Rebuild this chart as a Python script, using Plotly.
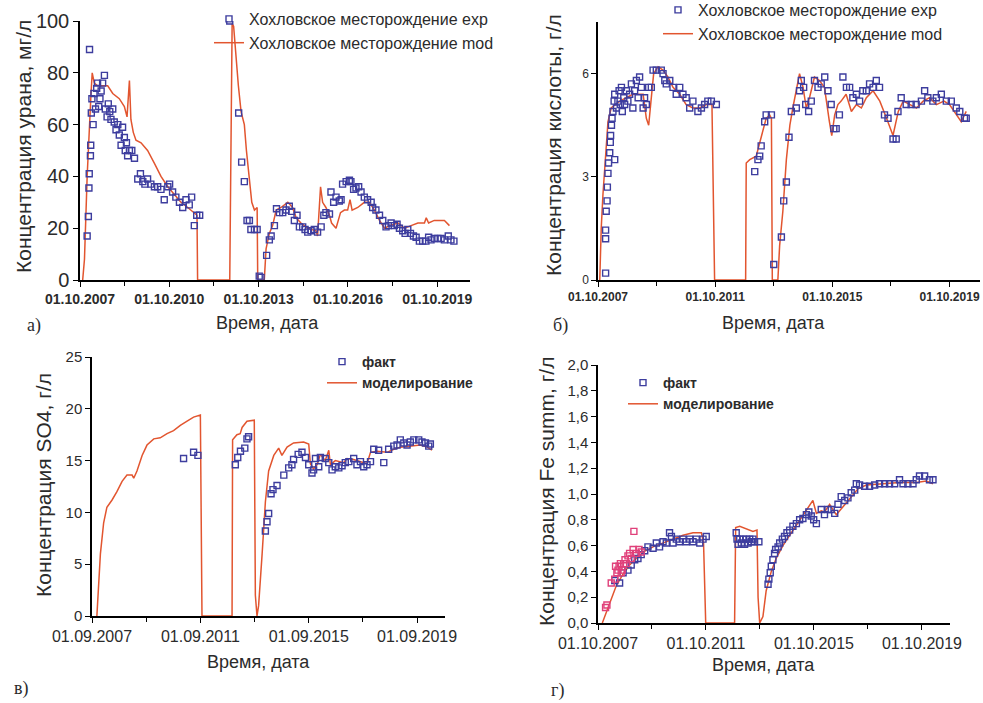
import plotly.graph_objects as go

# ---------------- data (decimal years) ----------------
# Panel a: uranium, mg/l
a_exp_x = [2007.99, 2008.03, 2008.05, 2008.06, 2008.10, 2008.11, 2008.13, 2008.07, 2008.15, 2008.19, 2008.22,
           2008.27, 2008.31, 2008.34, 2008.38, 2008.42, 2008.46, 2008.51, 2008.57, 2008.60, 2008.66, 2008.70,
           2008.75, 2008.79, 2008.85, 2008.90, 2008.96, 2009.02, 2009.07, 2009.13, 2009.18, 2009.24, 2009.27,
           2009.31, 2009.35, 2009.41, 2009.49, 2009.58, 2009.69, 2009.78, 2009.86, 2009.93, 2010.02, 2010.13,
           2010.25, 2010.36, 2010.47, 2010.58, 2010.70, 2010.76, 2010.86, 2010.97, 2011.09, 2011.20, 2011.31,
           2011.42, 2011.50, 2011.59, 2011.67, 2011.77,
           2012.78, 2013.08, 2013.18, 2013.27, 2013.36, 2013.44, 2013.49, 2013.61, 2013.70, 2013.77, 2013.83,
           2014.02, 2014.11, 2014.17, 2014.28, 2014.35, 2014.45, 2014.56, 2014.67, 2014.78, 2014.86, 2014.95,
           2015.04, 2015.12, 2015.23, 2015.31, 2015.40, 2015.51, 2015.62, 2015.73, 2015.85, 2015.94, 2016.01,
           2016.13, 2016.18, 2016.27, 2016.35, 2016.46, 2016.52, 2016.57, 2016.69, 2016.80, 2016.85, 2016.94,
           2017.02, 2017.11, 2017.19, 2017.30, 2017.41, 2017.53, 2017.58, 2017.69, 2017.81, 2017.92, 2018.03,
           2018.11, 2018.20, 2018.31, 2018.40, 2018.48, 2018.59, 2018.67, 2018.76, 2018.85, 2018.95, 2019.04,
           2019.15, 2019.26, 2019.37, 2019.46, 2019.54, 2019.65, 2019.77, 2019.88, 2019.99, 2020.12, 2020.21,
           2020.31]
a_exp_y = [17, 24.5, 35.5, 41, 48, 52, 64.5, 89, 70, 60, 72,
           66, 74, 76, 67, 70, 73, 76, 79, 66, 63, 68,
           65, 62, 66, 61, 58, 60, 56, 52, 59, 55, 50,
           53, 48, 50, 50, 47, 39, 41, 38, 37, 39, 37,
           36, 36, 35, 31, 36, 37, 34, 32, 30, 28, 31,
           29, 32, 21, 25, 25,
           100, 64.5, 45.5, 38, 23, 23, 19.5, 19.5, 19.5, 1.5, 1,
           9.5, 15.5, 17, 21, 27.5, 26, 26, 27, 28.5, 26.5, 23,
           25, 20.5, 20.5, 19.5, 18.5, 19, 19.5, 18.5, 20.5, 25, 26,
           25.5, 34, 30, 32, 30.5, 31, 37, 38, 38.5, 38, 35,
           35.5, 36, 34, 32, 31, 30, 28, 27, 25, 23, 20.5,
           21, 22, 21, 21.5, 20, 19, 18, 19.5, 18, 17, 16.5,
           15, 15, 15, 16.5, 15.5, 16, 16, 16, 15.5, 17, 15.5,
           15]
a_mod_x = [2007.84, 2007.90, 2007.99, 2008.06, 2008.12, 2008.16, 2008.23, 2008.34, 2008.68, 2008.85, 2009.07,
           2009.24, 2009.33, 2009.41, 2009.46, 2009.54, 2009.63, 2009.80, 2010.02, 2010.25, 2010.47, 2010.70,
           2010.92, 2011.14, 2011.37, 2011.59, 2011.68, 2011.70, 2012.78, 2012.80, 2012.86, 2012.91, 2012.99,
           2013.07, 2013.16, 2013.27, 2013.34, 2013.44, 2013.52, 2013.61, 2013.70, 2013.72, 2013.94, 2014.00,
           2014.11, 2014.22, 2014.34, 2014.50, 2014.73, 2014.89, 2015.01, 2015.17, 2015.40, 2015.68, 2015.73,
           2015.83, 2015.90, 2016.01, 2016.13, 2016.20, 2016.35, 2016.50, 2016.63, 2016.74, 2016.82, 2016.89,
           2017.08, 2017.30, 2017.47, 2017.64, 2017.81, 2017.98, 2018.15, 2018.43, 2018.65, 2018.87, 2019.10,
           2019.32, 2019.38, 2019.46, 2019.65, 2019.99, 2020.16]
a_mod_y = [0, 8, 40, 60, 72, 80, 76, 75, 75, 72, 70,
           67, 63, 77, 62, 57, 54, 53, 50, 45, 40, 36,
           33, 30, 28, 26, 25, 0, 0, 25, 99, 98, 86,
           75, 65, 60, 50, 38, 30, 27, 28, 0, 0, 12,
           18, 21, 27, 28, 30, 28, 24, 22, 20, 19, 17,
           36, 30, 28, 25, 22, 20, 26, 27, 27, 31, 27,
           28, 30, 30, 27, 23, 20, 21, 22, 20, 21, 22,
           22, 24, 22, 23, 23, 21]

# Panel b: acid, g/l
b_exp_x = [2008.01, 2008.01, 2008.01, 2008.03, 2008.06, 2008.07, 2008.09, 2008.11, 2008.15, 2008.17, 2008.18,
           2008.21, 2008.23, 2008.26, 2008.30, 2008.32, 2008.32, 2008.38, 2008.43, 2008.47, 2008.51, 2008.55,
           2008.58, 2008.63, 2008.66, 2008.72, 2008.77, 2008.83, 2008.89, 2008.94, 2009.00, 2009.06, 2009.12,
           2009.17, 2009.23, 2009.29, 2009.34, 2009.40, 2009.48, 2009.57, 2009.63, 2009.74, 2009.91, 2009.97,
           2010.03, 2010.08, 2010.20, 2010.31, 2010.42, 2010.54, 2010.65, 2010.76, 2010.88, 2010.99, 2011.16,
           2011.28, 2011.39, 2011.50, 2011.62, 2011.79,
           2013.10, 2013.21, 2013.27, 2013.32, 2013.44, 2013.49, 2013.67, 2013.75, 2014.01, 2014.09, 2014.18,
           2014.27, 2014.35, 2014.52, 2014.63, 2014.69, 2014.77, 2014.84, 2014.94, 2015.03, 2015.14, 2015.26,
           2015.37, 2015.49, 2015.60, 2015.71, 2015.80, 2015.88, 2015.99, 2016.11, 2016.23, 2016.34, 2016.45,
           2016.57, 2016.68, 2016.79, 2016.91, 2017.02, 2017.14, 2017.25, 2017.36, 2017.53, 2017.65, 2017.82,
           2017.93, 2017.99, 2018.10, 2018.27, 2018.44, 2018.61, 2018.79, 2018.90, 2019.01, 2019.18, 2019.30,
           2019.47, 2019.64, 2019.81, 2019.98, 2020.10, 2020.26, 2020.32]
b_exp_y = [0.2, 1.45, 1.2, 2.0, 2.3, 2.7, 3.1, 3.4, 3.7, 4.0, 4.2,
           4.5, 4.7, 4.9, 5.2, 5.4, 3.5, 5.0, 5.2, 5.5, 5.1, 5.6,
           4.9, 5.3, 5.1, 5.5, 5.2, 5.4, 5.7, 5.0, 5.5, 5.8, 5.3,
           5.9, 5.6, 5.0, 5.3, 5.1, 5.6, 5.6, 6.1, 6.1, 6.1, 6.0,
           5.8, 5.7, 5.8, 5.6, 5.4, 5.6, 5.4, 5.3, 5.0, 5.2, 4.9,
           5.0, 5.1, 5.2, 5.2, 5.1,
           3.15, 3.5, 3.6, 3.9, 4.6, 4.8, 4.8, 0.45, 1.25, 2.3, 2.85,
           4.15, 4.9, 5.0, 5.5, 5.8, 5.6, 5.1, 4.9, 5.2, 5.8, 5.6,
           5.7, 5.9, 5.5, 5.1, 4.4, 4.4, 4.8, 5.9, 5.6, 5.6, 5.3,
           5.4, 5.2, 5.5, 5.5, 5.7, 5.6, 5.8, 5.6, 4.8, 4.7, 4.1,
           4.1, 4.9, 5.3, 5.1, 5.1, 5.1, 5.2, 5.5, 5.3, 5.2, 5.3,
           5.4, 5.2, 5.2, 5.0, 4.9, 4.7, 4.7]
b_mod_x = [2007.81, 2007.86, 2007.92, 2008.01, 2008.09, 2008.20, 2008.49, 2008.94, 2009.29, 2009.40, 2009.48,
           2009.57, 2009.65, 2009.80, 2009.97, 2010.14, 2010.31, 2010.54, 2010.76, 2010.99, 2011.22, 2011.45,
           2011.64, 2011.73, 2012.79, 2012.81, 2012.93, 2013.15, 2013.38, 2013.49, 2013.61, 2013.67, 2013.70,
           2013.89, 2013.95, 2014.06, 2014.18, 2014.30, 2014.40, 2014.52, 2014.63, 2014.75, 2014.86, 2014.97,
           2015.14, 2015.31, 2015.48, 2015.65, 2015.73, 2015.83, 2015.94, 2016.05, 2016.22, 2016.40, 2016.57,
           2016.74, 2016.91, 2017.14, 2017.37, 2017.60, 2017.82, 2018.00, 2018.17, 2018.40, 2018.62, 2018.85,
           2019.07, 2019.30, 2019.56, 2019.75, 2019.98, 2020.15, 2020.32]
b_mod_y = [0, 1.5, 2.5, 3.8, 4.6, 5.0, 5.2, 5.4, 5.4, 4.7, 4.5,
           5.3, 6.0, 6.2, 6.1, 5.9, 5.6, 5.4, 5.1, 5.0, 5.0, 5.1,
           5.1, 0, 0, 3.4, 3.5, 3.6, 4.4, 4.7, 4.8, 4.7, 0,
           0, 1.0, 2.0, 3.5, 4.5, 5.0, 5.5, 6.0, 5.6, 5.0, 5.3,
           5.9, 5.8, 5.6, 4.6, 4.2, 4.8, 5.1, 5.2, 5.4, 4.9, 5.1,
           5.0, 5.3, 5.5, 5.2, 4.7, 4.2, 4.9, 5.2, 5.1, 5.0, 5.2,
           5.3, 5.1, 5.2, 5.1, 4.8, 4.6, 4.9]

# Panel c: SO4, g/l
c_exp_x = [2011.05, 2011.42, 2011.58, 2012.96, 2013.05, 2013.15, 2013.31, 2013.39, 2013.45,
           2014.07, 2014.13, 2014.19, 2014.28, 2014.35, 2014.50, 2014.75, 2014.93, 2015.05, 2015.11, 2015.28,
           2015.42, 2015.55, 2015.67, 2015.79, 2015.85, 2015.92, 2016.04, 2016.10, 2016.28, 2016.41, 2016.53,
           2016.65, 2016.78, 2016.90, 2017.02, 2017.15, 2017.33, 2017.45, 2017.58, 2017.70, 2017.82, 2017.95,
           2018.07, 2018.25, 2018.44, 2018.62, 2018.81, 2018.93, 2019.05, 2019.18, 2019.30, 2019.42, 2019.55,
           2019.73, 2019.85, 2019.98, 2020.10, 2020.16]
c_exp_y = [15.2, 15.8, 15.5, 14.6, 15.3, 15.9, 16.2, 17.1, 17.3,
           8.2, 9.1, 9.9, 11.8, 12.2, 12.6, 13.6, 14.3, 14.6, 15.1, 15.6,
           15.8, 15.3, 14.6, 13.8, 14.1, 15.2, 14.4, 15.3, 15.2, 14.8, 14.1,
           14.4, 14.3, 14.5, 14.8, 14.9, 15.2, 14.6, 14.9, 14.4, 14.6, 14.9,
           16.1, 16.0, 14.8, 16.1, 16.4, 16.5, 17.0, 16.7, 16.5, 16.8, 17.0,
           17.0, 16.8, 16.7, 16.4, 16.6]
c_mod_x = [2007.85, 2007.91, 2007.98, 2008.10, 2008.22, 2008.41, 2008.59, 2008.78, 2008.96, 2009.15, 2009.21,
           2009.33, 2009.52, 2009.70, 2009.95, 2010.19, 2010.44, 2010.68, 2010.93, 2011.18, 2011.42, 2011.67,
           2011.73, 2012.84, 2012.86, 2013.02, 2013.14, 2013.21, 2013.39, 2013.66, 2013.70, 2013.76, 2013.82,
           2013.95, 2014.07, 2014.19, 2014.38, 2014.56, 2014.68, 2014.87, 2015.11, 2015.48, 2015.67, 2015.73,
           2015.85, 2015.98, 2016.10, 2016.28, 2016.41, 2016.47, 2016.65, 2016.96, 2017.08, 2017.33, 2017.58,
           2017.82, 2017.95, 2018.19, 2018.56, 2018.81, 2019.05, 2019.42, 2019.79, 2020.04, 2020.22]
c_mod_y = [0, 3, 6, 9, 10.5, 11.2, 12, 13, 13.6, 13.6, 13.3,
           14, 15.5, 16.5, 17.1, 17.2, 17.6, 17.9, 18.4, 18.8, 19.2, 19.4,
           0, 0, 17, 17.5, 17.6, 18.2, 18.8, 18.9, 2, 0, 1,
           6, 11, 14, 15.5, 16.2, 15.5, 16.3, 16.7, 16.8, 16.6, 14.7,
           14.2, 14.6, 15.6, 15.0, 16.0, 14.6, 15.0, 14.8, 15.2, 15.1, 14.9,
           14.7, 15.8, 15.9, 15.8, 16.1, 16.3, 16.4, 16.5, 16.3, 16.0]

# Panel d: Fe summ, g/l
d_exp2_x = [2008.03, 2008.08, 2008.24, 2008.37, 2008.40, 2008.45, 2008.49, 2008.53, 2008.58, 2008.61, 2008.65,
            2008.70, 2008.75, 2008.80, 2008.86, 2008.92, 2008.98, 2009.05, 2009.08, 2009.17, 2009.27, 2009.35]
d_exp2_y = [0.12, 0.14, 0.31, 0.34, 0.44, 0.39, 0.41, 0.44, 0.46, 0.39, 0.41,
            0.46, 0.49, 0.46, 0.52, 0.54, 0.50, 0.57, 0.71, 0.54, 0.57, 0.55]
d_exp_x = [2008.37, 2008.55, 2008.68, 2008.86, 2008.98, 2009.11, 2009.23, 2009.35, 2009.48, 2009.60, 2009.79,
           2009.91, 2010.03, 2010.16, 2010.28, 2010.40, 2010.47, 2010.53, 2010.65, 2010.77, 2010.90, 2011.02,
           2011.15, 2011.27, 2011.39, 2011.52, 2011.64, 2011.76,
           2012.87, 2012.90, 2012.94, 2013.00, 2013.06, 2013.12, 2013.18, 2013.24, 2013.31, 2013.37, 2013.43,
           2013.49, 2013.55, 2013.71,
           2014.05, 2014.08, 2014.13, 2014.17, 2014.23, 2014.29, 2014.33, 2014.42, 2014.48, 2014.58, 2014.66,
           2014.75, 2014.85, 2014.97, 2015.10, 2015.22, 2015.34, 2015.47, 2015.56, 2015.65, 2015.74, 2015.84,
           2016.02, 2016.14, 2016.27, 2016.39, 2016.52, 2016.64, 2016.76, 2016.89, 2017.01, 2017.13, 2017.26,
           2017.32, 2017.44, 2017.63, 2017.81, 2018.00, 2018.18, 2018.37, 2018.55, 2018.74, 2018.92, 2019.05,
           2019.23, 2019.42, 2019.54, 2019.66, 2019.85, 2020.03, 2020.16]
d_exp_y = [0.33, 0.31, 0.39, 0.41, 0.45, 0.49, 0.50, 0.53, 0.56, 0.59, 0.58,
           0.62, 0.59, 0.63, 0.62, 0.70, 0.67, 0.62, 0.65, 0.63, 0.65, 0.63,
           0.65, 0.63, 0.65, 0.62, 0.65, 0.67,
           0.70, 0.65, 0.61, 0.65, 0.62, 0.65, 0.61, 0.65, 0.62, 0.65, 0.63,
           0.65, 0.63, 0.63,
           0.30, 0.34, 0.39, 0.44, 0.49, 0.54, 0.57, 0.59, 0.62, 0.65, 0.67,
           0.70, 0.72, 0.75, 0.77, 0.80, 0.81, 0.84, 0.86, 0.83, 0.80, 0.77,
           0.88, 0.84, 0.88, 0.88, 0.85, 0.92, 0.98, 0.95, 0.97, 1.01, 1.03,
           1.08, 1.07, 1.06, 1.06, 1.07, 1.08, 1.08, 1.08, 1.08, 1.11, 1.08,
           1.08, 1.08, 1.11, 1.14, 1.14, 1.11, 1.11]
d_mod_x = [2007.91, 2008.18, 2008.43, 2008.68, 2008.92, 2009.17, 2009.42, 2009.79, 2010.16, 2010.53, 2010.90,
           2011.27, 2011.58, 2011.66, 2011.74, 2012.81, 2012.85, 2013.00, 2013.24, 2013.49, 2013.64, 2013.68,
           2013.74, 2013.86, 2013.98, 2014.17, 2014.35, 2014.60, 2014.85, 2015.10, 2015.34, 2015.53, 2015.71,
           2015.84, 2016.02, 2016.14, 2016.33, 2016.45, 2016.58, 2016.82, 2017.07, 2017.38, 2017.69, 2018.31,
           2018.92, 2019.54, 2019.91, 2020.16]
d_mod_y = [0, 0.15, 0.29, 0.38, 0.45, 0.50, 0.55, 0.59, 0.62, 0.65, 0.68,
           0.70, 0.70, 0.62, 0, 0, 0.74, 0.75, 0.73, 0.71, 0.72, 0.2,
           0, 0.05, 0.25, 0.40, 0.50, 0.60, 0.68, 0.76, 0.84, 0.90, 0.95,
           0.85, 0.87, 0.86, 0.92, 0.88, 0.84, 0.90, 0.96, 1.04, 1.07, 1.08,
           1.09, 1.09, 1.10, 1.08]

# tick labels
a_tickvals = [2007.75, 2010.75, 2013.75, 2016.75, 2019.75]
a_ticktext = ["01.10.2007", "01.10.2010", "01.10.2013", "01.10.2016", "01.10.2019"]
b_tickvals = [2007.75, 2011.75, 2015.75, 2019.75]
b_ticktext = ["01.10.2007", "01.10.2011", "01.10.2015", "01.10.2019"]
c_tickvals = [2007.67, 2011.67, 2015.67, 2019.67]
c_ticktext = ["01.09.2007", "01.09.2011", "01.09.2015", "01.09.2019"]
d_tickvals = [2007.75, 2011.75, 2015.75, 2019.75]
d_ticktext = ["01.10.2007", "01.10.2011", "01.10.2015", "01.10.2019"]
d_yvals = [0, 0.2, 0.4, 0.6, 0.8, 1.0, 1.2, 1.4, 1.6, 1.8, 2.0]
d_ytext = ["0,0", "0,2", "0,4", "0,6", "0,8", "1,0", "1,2", "1,4", "1,6", "1,8", "2,0"]

leg_exp = "Хохловское месторождение exp"
leg_mod = "Хохловское месторождение mod"
leg_fact = "факт"
leg_model = "моделирование"

# ---------------- styling ----------------
W, H = 983, 703
BLUE = "#3d3d9e"
PINK = "#e0407a"
RED = "#e2552f"
TXT = "#2b2b2b"
SANS = "Liberation Sans, Arial, sans-serif"


def px(x):
    return x / W


def py(y):
    return 1 - y / H


fig = go.Figure()


def add_pair(xe, ye, xm, ym, xa, ya, leg, name_e, name_m, msize=6):
    fig.add_trace(go.Scatter(x=xm, y=ym, mode="lines", name=name_m, xaxis=xa, yaxis=ya,
                             line=dict(color=RED, width=1.5), legend=leg, legendrank=2))
    fig.add_trace(go.Scatter(x=xe, y=ye, mode="markers", name=name_e, xaxis=xa, yaxis=ya,
                             marker=dict(symbol="square-open", size=msize, color=BLUE, line=dict(width=1.4, color=BLUE)),
                             legend=leg, legendrank=1))


add_pair(a_exp_x, a_exp_y, a_mod_x, a_mod_y, "x", "y", "legend", leg_exp, leg_mod)
add_pair(b_exp_x, b_exp_y, b_mod_x, b_mod_y, "x2", "y2", "legend2", leg_exp, leg_mod)
add_pair(c_exp_x, c_exp_y, c_mod_x, c_mod_y, "x3", "y3", "legend3", leg_fact, leg_model)
add_pair(d_exp_x, d_exp_y, d_mod_x, d_mod_y, "x4", "y4", "legend4", leg_fact, leg_model)
fig.add_trace(go.Scatter(x=d_exp2_x, y=d_exp2_y, mode="markers", showlegend=False, xaxis="x4", yaxis="y4",
                         marker=dict(symbol="square-open", size=6, color=PINK, line=dict(width=1.4, color=PINK))))


def xax(dom, rng, anchor, tv, tt, minor_vals, fsize, bold):
    return dict(domain=dom, range=rng, anchor=anchor, automargin=False, tickmode="array", tickvals=tv, ticktext=tt,
                showline=True, linecolor="black", linewidth=1.5, ticks="outside", ticklen=5,
                tickwidth=1.3, tickcolor="black", showgrid=False, zeroline=False,
                tickfont=dict(family=SANS, size=fsize, color=TXT, weight="bold" if bold else "normal"),
                minor=dict(tickmode="array", tickvals=minor_vals, ticks="outside", ticklen=4,
                           tickwidth=1.2, tickcolor="black", showgrid=False))


def yax(dom, rng, anchor, fsize, tv=None, tt=None, dtick=None):
    d = dict(domain=dom, range=rng, anchor=anchor, automargin=False, showline=True, linecolor="black",
             linewidth=1.5, ticks="outside", ticklen=5, tickwidth=1.3, tickcolor="black", showgrid=False,
             zeroline=False, tickfont=dict(family=SANS, size=fsize, color=TXT))
    if tv is not None:
        d.update(tickmode="array", tickvals=tv, ticktext=tt)
    else:
        d.update(tickmode="linear", tick0=0, dtick=dtick)
    return d


def legend(x, y, fsize, bold):
    return dict(x=px(x), y=py(y), xanchor="left", yanchor="top", bgcolor="rgba(0,0,0,0)",
                font=dict(family=SANS, size=fsize, color=TXT, weight="bold" if bold else "normal"),
                tracegroupgap=0, itemwidth=30)


fig.update_layout(
    width=W, height=H, margin=dict(l=0, r=0, t=0, b=0, pad=0, autoexpand=False),
    paper_bgcolor="white", plot_bgcolor="white", showlegend=True,
    xaxis=xax([px(80), px(470)], [2007.75, 2020.85], "y", a_tickvals, a_ticktext,
              [2009.25, 2012.25, 2015.25, 2018.25], 14, True),
    yaxis=yax([py(280), py(21)], [0, 100], "x", 20, dtick=20),
    xaxis2=xax([px(598), px(980)], [2007.75, 2020.79], "y2", b_tickvals, b_ticktext,
               [2009.75, 2013.75, 2017.75], 12, True),
    yaxis2=yax([py(280), py(22)], [0, 7.5], "x2", 12, dtick=3),
    xaxis3=xax([px(92), px(445)], [2007.67, 2020.70], "y3", c_tickvals, c_ticktext,
               [2009.67, 2013.67, 2017.67], 16, False),
    yaxis3=yax([py(616), py(357)], [0, 25], "x3", 15, dtick=5),
    xaxis4=xax([px(598), px(950)], [2007.75, 2020.79], "y4", d_tickvals, d_ticktext,
               [2009.75, 2013.75, 2017.75], 16, False),
    yaxis4=yax([py(623), py(365)], [0, 2.0], "x4", 15, tv=d_yvals, tt=d_ytext),
    legend=legend(209, 2, 16, False),
    legend2=legend(658, -7, 16, False),
    legend3=legend(322, 346, 14, True),
    legend4=legend(623, 367, 14, True),
)

ann = []


def title(text, x, y, size, angle=0, family=SANS):
    ann.append(dict(text=text, x=px(x), y=py(y), xref="paper", yref="paper", showarrow=False,
                    textangle=angle, font=dict(family=family, size=size, color=TXT),
                    xanchor="center", yanchor="middle"))


title("Концентрация урана, мг/л", 23, 147, 21, -90)
title("Концентрация кислоты, г/л", 553, 145, 21, -90)
title("Концентрация SO4, г/л", 43, 485, 21, -90)
title("Концентрация Fe summ, г/л", 546, 492, 21, -90)
title("Время, дата", 267, 323, 18)
title("Время, дата", 773, 323, 18)
title("Время, дата", 258, 662, 18)
title("Время, дата", 763, 665, 18)
SERIF = "Liberation Serif, Times New Roman, serif"
title("а)", 34, 325, 18, family=SERIF)
title("б)", 560, 325, 18, family=SERIF)
title("в)", 21, 688, 18, family=SERIF)
title("г)", 557, 690, 18, family=SERIF)
fig.update_layout(annotations=ann)

fig.write_html("out.html", config={"displayModeBar": False},
               post_script="document.body.style.margin='0px';document.body.style.overflow='hidden';")
